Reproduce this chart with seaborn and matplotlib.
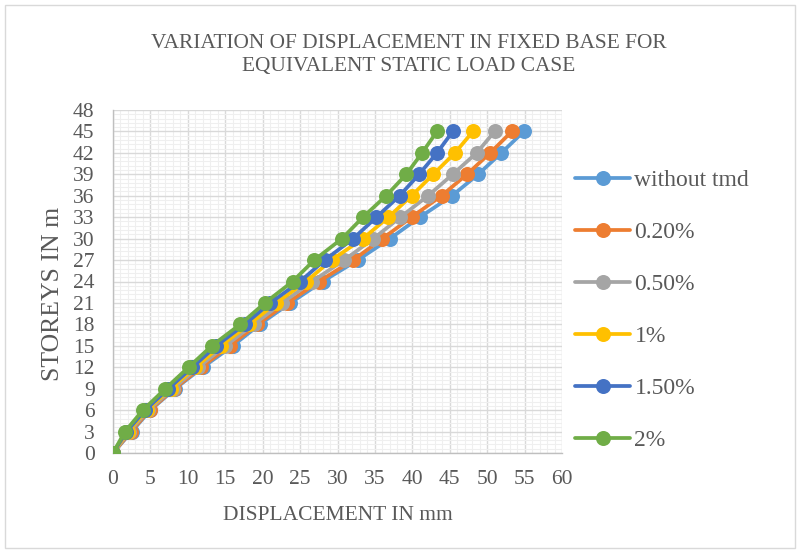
import matplotlib
matplotlib.use("Agg")
import matplotlib.pyplot as plt
import seaborn as sns
import pandas as pd
from matplotlib.patches import Rectangle
from matplotlib.ticker import MultipleLocator

# Storey heights (m) and lateral displacements (mm)
storeys = [0, 3, 6, 9, 12, 15, 18, 21, 24, 27, 30, 33, 36, 39, 42, 45]
without_tmd = [0, 2.5, 5.0, 8.3, 12.0, 16.0, 19.6, 23.7, 28.0, 32.7, 37.0, 41.0, 45.3, 48.8, 51.9, 54.9]
tmd_0_20 = [0, 2.4, 4.9, 8.2, 11.8, 15.6, 19.3, 23.3, 27.5, 32.1, 36.0, 39.9, 43.9, 47.3, 50.4, 53.3]
tmd_0_50 = [0, 2.2, 4.7, 8.0, 11.4, 15.0, 18.8, 22.6, 26.6, 30.9, 34.8, 38.4, 42.1, 45.4, 48.6, 51.0]
tmd_1 = [0, 2.0, 4.5, 7.7, 11.0, 14.4, 18.2, 21.8, 25.8, 29.2, 33.4, 36.8, 39.9, 42.8, 45.7, 48.1]
tmd_1_50 = [0, 1.8, 4.3, 7.4, 10.6, 13.8, 17.6, 21.0, 25.0, 28.3, 32.1, 35.2, 38.3, 40.9, 43.3, 45.4]
tmd_2 = [0, 1.6, 4.0, 7.0, 10.1, 13.2, 17.0, 20.3, 24.0, 26.9, 30.6, 33.4, 36.5, 39.2, 41.3, 43.3]

series_names = ["without tmd", "0.20%", "0.50%", "1%", "1.50%", "2%"]
series_values = [without_tmd, tmd_0_20, tmd_0_50, tmd_1, tmd_1_50, tmd_2]
colors = ["#5B9BD5", "#ED7D31", "#A5A5A5", "#FFC000", "#4472C4", "#70AD47"]

rows = []
for name, vals in zip(series_names, series_values):
    for s, d in zip(storeys, vals):
        rows.append({"series": name, "storey": s, "disp": d})
df = pd.DataFrame(rows)

sns.set_style("white")
plt.rcParams["font.family"] = ["Liberation Serif", "DejaVu Serif"]
text_color = "#595959"

fig = plt.figure(figsize=(8.01, 5.53), dpi=100)
ax = fig.add_axes([113 / 801, 1 - 453 / 553, (562 - 113) / 801, (453 - 110) / 553])

sns.lineplot(data=df, x="disp", y="storey", hue="series", hue_order=series_names,
             palette=colors, marker="o", markersize=10.8, markeredgewidth=0,
             linewidth=2.7, sort=False, ax=ax, legend=True, zorder=3)

ax.set_xlim(0, 60)
ax.set_ylim(0, 48)
ax.xaxis.set_major_locator(MultipleLocator(5))
ax.yaxis.set_major_locator(MultipleLocator(3))
ax.xaxis.set_minor_locator(MultipleLocator(1))
ax.yaxis.set_minor_locator(MultipleLocator(0.6))
ax.grid(which="minor", color="#efefef", linewidth=0.8, zorder=0)
ax.grid(which="major", color="#d9d9d9", linewidth=1.0, zorder=1)
ax.set_axisbelow(True)

for side in ["top", "right"]:
    ax.spines[side].set_visible(False)
for side in ["left", "bottom"]:
    ax.spines[side].set_color("#bfbfbf")
    ax.spines[side].set_linewidth(1.0)
ax.tick_params(which="major", direction="out", length=4.3, width=1.0, color="#bfbfbf",
               labelsize=15.5, labelcolor=text_color)
ax.tick_params(axis="y", which="major", pad=9)
ax.tick_params(axis="x", which="major", pad=8)
ax.tick_params(which="minor", length=0)

ax.set_xlabel("DISPLACEMENT IN mm", fontsize=15.5, color=text_color, labelpad=12)
ax.set_ylabel("STOREYS IN m", fontsize=18.5, color=text_color)
ax.yaxis.set_label_coords(-(113 - 64) / 449, (453 - 294) / 343)

fig.text(409 / 801, 1 - 55 / 553, "VARIATION OF DISPLACEMENT IN FIXED BASE FOR\nEQUIVALENT STATIC LOAD CASE",
         ha="center", va="center", fontsize=15.4, color=text_color, linespacing=1.3)

handles, labels = ax.get_legend_handles_labels()
leg = ax.legend(handles, labels, loc="upper left", bbox_to_anchor=(566 / 801, 1 - 160 / 553),
                bbox_transform=fig.transFigure, frameon=False, fontsize=17,
                handlelength=2.3, handletextpad=0.2, labelspacing=1.29, borderaxespad=0)
for t in leg.get_texts():
    t.set_color(text_color)

fig.patches.append(Rectangle((5 / 801, 5 / 553), 790 / 801, 543 / 553, transform=fig.transFigure,
                             fill=False, edgecolor="#d9d9d9", linewidth=1.0))

fig.savefig("out.png", dpi=100)
